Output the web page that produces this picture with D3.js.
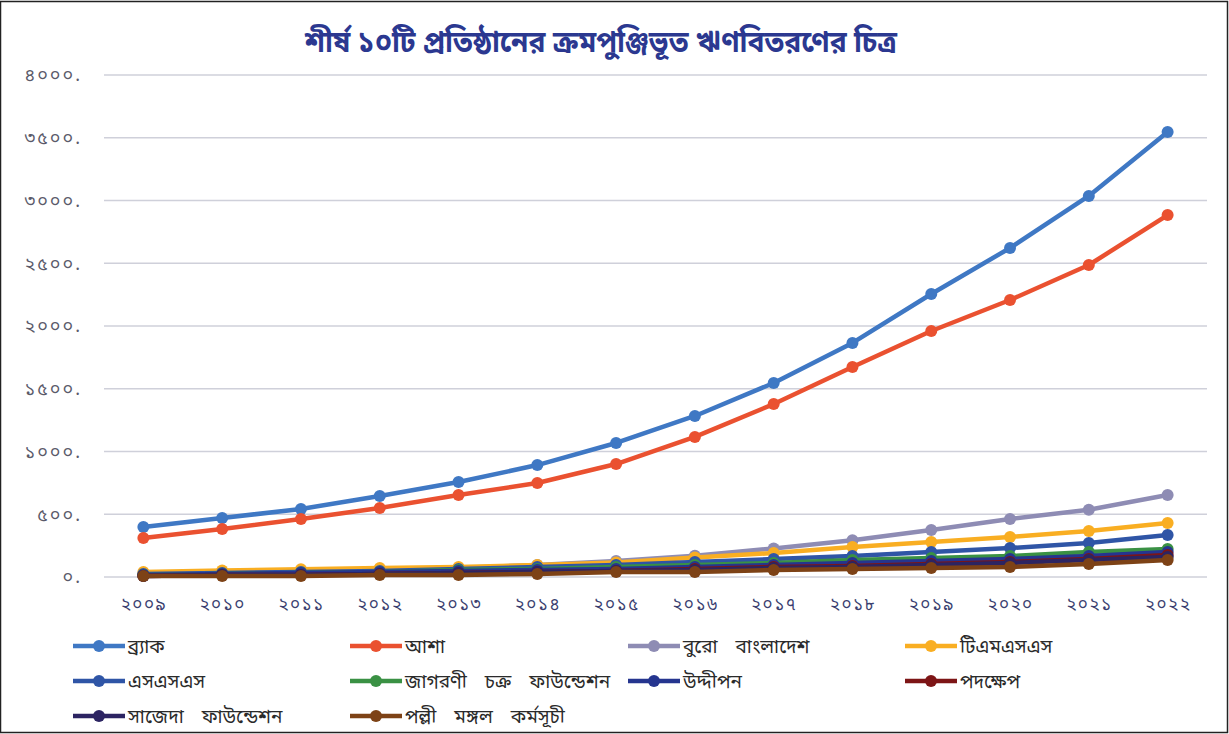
<!DOCTYPE html>
<html>
<head>
<meta charset="utf-8">
<script src="https://cdn.jsdelivr.net/npm/d3@7/dist/d3.min.js"></script>
<style>
  html, body { margin: 0; padding: 0; background: #fff; }
  svg { display: block; }
  text { font-family: "Noto Sans Bengali", "Noto Serif Bengali", "Lohit Bengali", "FreeSans", sans-serif; }
</style>
</head>
<body>
<svg id="chart" width="1229" height="734"></svg>
<script>
// ─── Data ───
const years = ["২০০৯", "২০১০", "২০১১", "২০১২", "২০১৩", "২০১৪", "২০১৫", "২০১৬", "২০১৭", "২০১৮", "২০১৯", "২০২০", "২০২১", "২০২২"];
const yTicks = [0, 500, 1000, 1500, 2000, 2500, 3000, 3500, 4000];
const yTickLabels = ["০.", "৫০০.", "১০০০.", "১৫০০.", "২০০০.", "২৫০০.", "৩০০০.", "৩৫০০.", "৪০০০."];

const brac      = [398, 470, 542, 645, 757, 892, 1068, 1283, 1546, 1865, 2255, 2622, 3036, 3546];
const asa       = [311, 382, 462, 550, 653, 749, 900, 1116, 1378, 1673, 1960, 2207, 2486, 2884];
const buro      = [24, 32, 40, 48, 72, 96, 127, 170, 228, 292, 375, 462, 536, 653];
const tmss      = [40, 52, 62, 72, 80, 96, 115, 155, 191, 239, 279, 319, 367, 430];
const sss       = [24, 32, 40, 48, 64, 80, 96, 120, 143, 167, 199, 231, 271, 335];
const jagorani  = [16, 24, 32, 40, 56, 64, 80, 96, 112, 135, 151, 167, 199, 223];
const uddipan   = [16, 24, 32, 40, 48, 56, 64, 80, 96, 112, 127, 143, 167, 199];
const padakhep  = [8, 16, 16, 24, 32, 40, 48, 64, 80, 88, 104, 120, 143, 175];
const sajida    = [8, 16, 16, 24, 32, 40, 48, 56, 72, 80, 96, 112, 135, 159];
const palli     = [8, 8, 8, 16, 16, 24, 40, 40, 56, 64, 72, 80, 104, 135];

const seriesNames  = ["ব্র্যাক", "আশা", "বুরো বাংলাদেশ", "টিএমএসএস", "এসএসএস", "জাগরণী চক্র ফাউন্ডেশন", "উদ্দীপন", "পদক্ষেপ", "সাজেদা ফাউন্ডেশন", "পল্লী মঙ্গল কর্মসূচী"];
const seriesValues = [brac, asa, buro, tmss, sss, jagorani, uddipan, padakhep, sajida, palli];
const seriesColors = ["#3f78c4", "#ea5130", "#8e8cb4", "#f9ae22", "#2f55a6", "#3a9144", "#25358f", "#7d1516", "#2c2462", "#7d4216"];

const series = seriesNames.map((name, i) => ({
  name,
  color: seriesColors[i],
  values: seriesValues[i].map((v, j) => ({ year: years[j], value: v })),
}));

const svg = d3.select("#chart");

// frame
svg.append("rect")
  .attr("x", 0.5).attr("y", 1.5)
  .attr("width", 1227).attr("height", 731)
  .attr("fill", "#fff")
  .attr("stroke", "#222").attr("stroke-width", 1.5);

// ─── Title ───
svg.append("text")
  .attr("x", 601).attr("y", 52)
  .attr("text-anchor", "middle")
  .attr("fill", "#2b3890")
  .attr("font-size", "30px")
  .attr("font-weight", 700)
  .attr("textLength", 592)
  .attr("lengthAdjust", "spacingAndGlyphs")
  .text("শীর্ষ ১০টি প্রতিষ্ঠানের ক্রমপুঞ্জিভূত ঋণবিতরণের চিত্র");

// ─── Scales ───
const x = d3.scalePoint().domain(years).range([104, 1207]).padding(0.5);
const y = d3.scaleLinear().domain([0, 4000]).range([577, 75]);

// Grid
svg.append("g")
  .selectAll("line")
  .data(yTicks)
  .join("line")
  .attr("x1", 104).attr("x2", 1207)
  .attr("y1", (d) => y(d)).attr("y2", (d) => y(d))
  .attr("stroke", "#cfd0da")
  .attr("stroke-width", 1.5);

// Y axis labels
const yAxis = svg.append("g")
  .attr("transform", "translate(82,0)")
  .call(d3.axisLeft(y).tickValues(yTicks).tickSize(0).tickPadding(0)
    .tickFormat((d, i) => yTickLabels[i]));
yAxis.select(".domain").remove();
yAxis.selectAll("text")
  .attr("fill", "#5a5a6a")
  .attr("font-size", "18px")
  .attr("letter-spacing", "2px");

// X axis labels
const xAxis = svg.append("g")
  .attr("transform", "translate(0,593)")
  .call(d3.axisBottom(x).tickSize(0).tickPadding(5));
xAxis.select(".domain").remove();
xAxis.selectAll("text")
  .attr("fill", "#3b3f70")
  .attr("font-size", "17px")
  .attr("letter-spacing", "1.5px");

// ─── Lines ───
const line = d3.line().x((d) => x(d.year)).y((d) => y(d.value));

const groups = svg.append("g")
  .selectAll("g.series")
  .data(series)
  .join("g")
  .attr("class", "series");

groups.append("path")
  .attr("d", (d) => line(d.values))
  .attr("fill", "none")
  .attr("stroke", (d) => d.color)
  .attr("stroke-width", 4.5)
  .attr("stroke-linejoin", "round");

groups.selectAll("circle")
  .data((d) => d.values.map((v) => ({ ...v, color: d.color })))
  .join("circle")
  .attr("cx", (d) => x(d.year))
  .attr("cy", (d) => y(d.value))
  .attr("r", 6)
  .attr("fill", (d) => d.color);

// ─── Legend ───
const legendCols = [73, 350, 628, 905];
const legendRows = [646, 681, 716];

const legend = svg.append("g")
  .selectAll("g.legend-item")
  .data(series)
  .join("g")
  .attr("class", "legend-item")
  .attr("transform", (d, i) => `translate(${legendCols[i % 4]},${legendRows[Math.floor(i / 4)]})`);

legend.append("line")
  .attr("x1", 0).attr("x2", 52)
  .attr("stroke", (d) => d.color)
  .attr("stroke-width", 4.5);

legend.append("circle")
  .attr("cx", 26).attr("r", 6)
  .attr("fill", (d) => d.color);

legend.append("text")
  .attr("x", 55).attr("dy", "0.35em")
  .attr("fill", "#2a2a2a")
  .attr("font-size", "19px")
  .attr("word-spacing", "13px")
  .text((d) => d.name);
</script>
</body>
</html>
